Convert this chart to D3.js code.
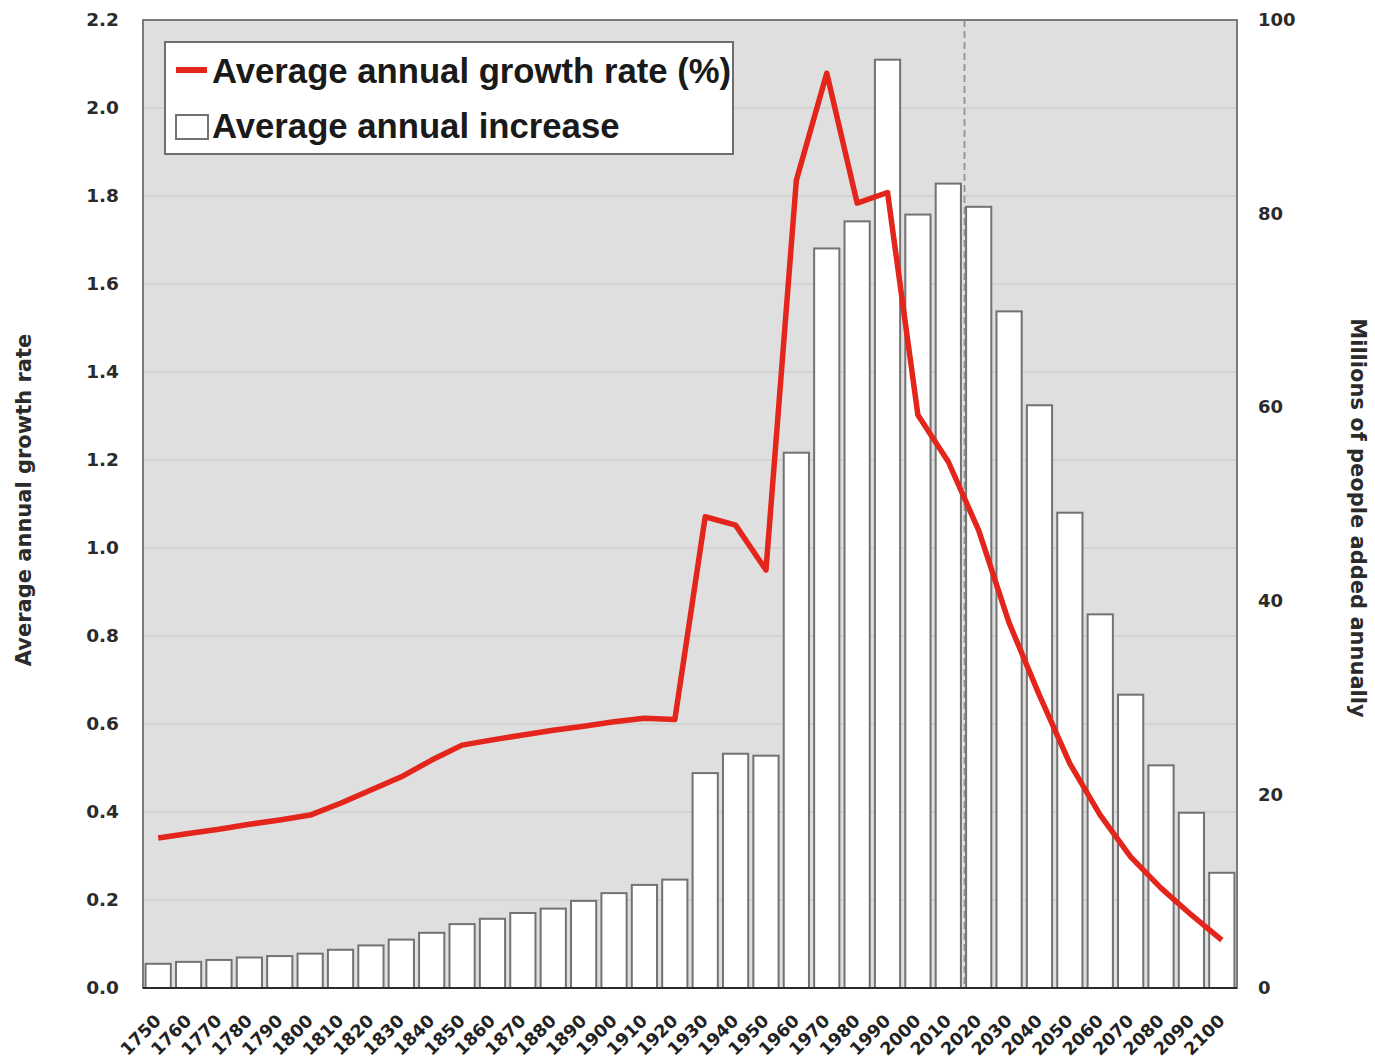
<!DOCTYPE html>
<html>
<head>
<meta charset="utf-8">
<script src="https://cdn.jsdelivr.net/npm/d3@7"></script>
<style>
  html, body { margin: 0; padding: 0; background: #ffffff; }
  svg { display: block; }
</style>
</head>
<body>
<svg id="chart" width="1375" height="1058"></svg>
<script>
// ---------- DATA ----------
const years = ["1750","1760","1770","1780","1790","1800","1810","1820","1830","1840",
               "1850","1860","1870","1880","1890","1900","1910","1920","1930","1940",
               "1950","1960","1970","1980","1990","2000","2010","2020","2030","2040",
               "2050","2060","2070","2080","2090","2100"];

// Average annual increase (millions of people) - bars, right axis
const increase = [2.5, 2.7, 2.9, 3.15, 3.3, 3.55, 3.95, 4.4, 5.0, 5.7,
                  6.6, 7.15, 7.75, 8.2, 9.0, 9.8, 10.65, 11.2, 22.2, 24.2,
                  24.0, 55.3, 76.4, 79.2, 95.9, 79.9, 83.1, 80.7, 69.9, 60.2,
                  49.1, 38.6, 30.3, 23.0, 18.1, 11.9];

// Average annual growth rate (%) - line, left axis
const growth = [0.341, 0.351, 0.361, 0.372, 0.382, 0.393, 0.42, 0.45, 0.48, 0.518,
                0.552, 0.564, 0.575, 0.586, 0.595, 0.605, 0.613, 0.61, 1.071, 1.052,
                0.95, 1.836, 2.079, 1.784, 1.808, 1.302, 1.196, 1.04, 0.83, 0.665,
                0.51, 0.393, 0.298, 0.227, 0.166, 0.109];

const leftTicks = [0.0, 0.2, 0.4, 0.6, 0.8, 1.0, 1.2, 1.4, 1.6, 1.8, 2.0, 2.2];
const rightTicks = [0, 20, 40, 60, 80, 100];
const projectionStart = "2020";

const legendLabels = ["Average annual growth rate (%)", "Average annual increase"];
const leftTitle = "Average annual growth rate";
const rightTitle = "Millions of people added annually";

// ---------- LAYOUT ----------
const svg = d3.select("#chart");
const L = 143, R = 1237, T = 20, B = 988;
const axisFont = "'DejaVu Sans', sans-serif";
const legendFont = "'Liberation Sans', Arial, sans-serif";

const x = d3.scaleBand().domain(years).range([L, R]).paddingInner(0.17).paddingOuter(0.085);
const yL = d3.scaleLinear().domain([0, 2.2]).range([B, T]);
const yR = d3.scaleLinear().domain([0, 100]).range([B, T]);

// background
svg.append("rect").attr("x", L).attr("y", T).attr("width", R - L).attr("height", B - T)
  .attr("fill", "#dfdfdf");

// gridlines
svg.append("g").selectAll("line").data(leftTicks.filter(d => d > 0 && d < 2.2)).join("line")
  .attr("x1", L).attr("x2", R)
  .attr("y1", d => yL(d)).attr("y2", d => yL(d))
  .attr("stroke", "#c6c6c6").attr("stroke-width", 1.2);

// dashed projection line (between 2010 and 2020 bars)
const step = x.step();
const dashX = x(projectionStart) - step * x.paddingInner() / 2 + 1;
svg.append("line").attr("x1", dashX).attr("x2", dashX).attr("y1", T).attr("y2", B)
  .attr("stroke", "#8a8a8a").attr("stroke-width", 1.6).attr("stroke-dasharray", "7,4");

// bars
svg.append("g").selectAll("rect").data(years).join("rect")
  .attr("x", d => x(d))
  .attr("y", (d, i) => yR(increase[i]))
  .attr("width", x.bandwidth())
  .attr("height", (d, i) => B - yR(increase[i]))
  .attr("fill", "#ffffff")
  .attr("stroke", "#727272").attr("stroke-width", 2);

svg.append("line").attr("x1", dashX).attr("x2", dashX).attr("y1", T).attr("y2", B)
  .attr("stroke", "#9a9a9a").attr("stroke-width", 1.2).attr("stroke-dasharray", "7,4")
  .attr("opacity", 0.6);

// line
const line = d3.line()
  .x((d, i) => x(years[i]) + x.bandwidth() / 2)
  .y(d => yL(d));
svg.append("path").datum(growth)
  .attr("d", line)
  .attr("fill", "none").attr("stroke", "#e3251c").attr("stroke-width", 5.5)
  .attr("stroke-linejoin", "round").attr("stroke-linecap", "butt");

// plot border
svg.append("rect").attr("x", L).attr("y", T).attr("width", R - L).attr("height", B - T)
  .attr("fill", "none").attr("stroke", "#7a7a7a").attr("stroke-width", 2);
svg.append("line").attr("x1", L).attr("x2", R).attr("y1", B).attr("y2", B)
  .attr("stroke", "#2a2a2a").attr("stroke-width", 2.2);

// left axis (labels only)
const leftAxis = d3.axisLeft(yL).tickValues(leftTicks).tickFormat(d3.format(".1f")).tickSize(0).tickPadding(0);
const gL = svg.append("g").attr("transform", `translate(${L - 24},0)`).call(leftAxis);
gL.select(".domain").remove();
gL.selectAll("text").attr("font-family", axisFont).attr("font-weight", "bold")
  .attr("font-size", 18.5).attr("fill", "#2b2b2b");

// right axis
const rightAxis = d3.axisRight(yR).tickValues(rightTicks).tickFormat(d3.format("d")).tickSize(0).tickPadding(0);
const gR = svg.append("g").attr("transform", `translate(${R + 21},0)`).call(rightAxis);
gR.select(".domain").remove();
gR.selectAll("text").attr("font-family", axisFont).attr("font-weight", "bold")
  .attr("font-size", 18).attr("fill", "#2b2b2b");

// bottom axis labels (rotated)
const bottomAxis = d3.axisBottom(x).tickSize(0).tickPadding(0);
const gB = svg.append("g").attr("transform", `translate(0,${B})`).call(bottomAxis);
gB.select(".domain").remove();
gB.selectAll("text")
  .attr("font-family", axisFont).attr("font-weight", "bold").attr("font-size", 17.5)
  .attr("fill", "#222")
  .attr("text-anchor", "end")
  .attr("y", 0).attr("dy", 0)
  .attr("transform", "translate(4,34) rotate(-45)");

// axis titles
svg.append("text").attr("transform", `translate(24,${(333 + 667) / 2}) rotate(-90)`)
  .attr("text-anchor", "middle").attr("dominant-baseline", "central")
  .attr("font-family", axisFont).attr("font-weight", "bold").attr("font-size", 21)
  .attr("fill", "#2b2b2b").text(leftTitle);
svg.append("text").attr("transform", `translate(1358,518) rotate(90)`)
  .attr("text-anchor", "middle").attr("dominant-baseline", "central")
  .attr("font-family", axisFont).attr("font-weight", "bold").attr("font-size", 21)
  .attr("fill", "#2b2b2b").text(rightTitle);

// legend
const lg = svg.append("g");
lg.append("rect").attr("x", 165).attr("y", 42).attr("width", 568).attr("height", 112)
  .attr("fill", "#ffffff").attr("stroke", "#6e6e6e").attr("stroke-width", 2);
lg.append("line").attr("x1", 176).attr("x2", 207).attr("y1", 70).attr("y2", 70)
  .attr("stroke", "#e3251c").attr("stroke-width", 6);
lg.append("rect").attr("x", 176).attr("y", 115).attr("width", 32).attr("height", 24)
  .attr("fill", "#ffffff").attr("stroke", "#727272").attr("stroke-width", 2);
lg.selectAll("text.lab").data(legendLabels).join("text").attr("class", "lab")
  .attr("x", 212).attr("y", (d, i) => 83 + i * 55)
  .attr("font-family", legendFont).attr("font-weight", "bold").attr("font-size", 34.7)
  .attr("fill", "#1a1a1a").text(d => d);
</script>
</body>
</html>
